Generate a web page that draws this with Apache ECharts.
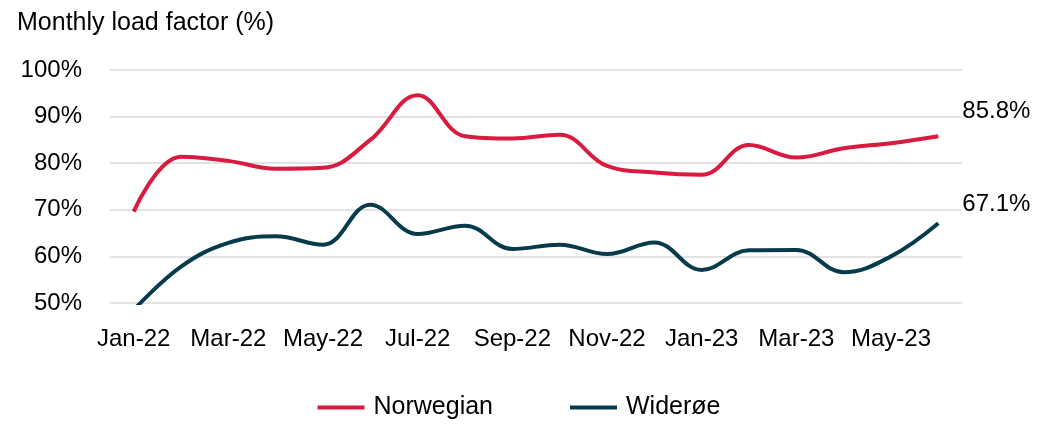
<!DOCTYPE html>
<html>
<head>
<meta charset="utf-8">
<script src="https://cdn.jsdelivr.net/npm/echarts@6/dist/echarts.min.js"></script>
<style>
  html, body { margin: 0; padding: 0; background: #fff; }
  #chart { width: 1038px; height: 427px; }
</style>
</head>
<body>
<div id="chart"></div>
<script>
var months = ['Jan-22', 'Feb-22', 'Mar-22', 'Apr-22', 'May-22', 'Jun-22', 'Jul-22', 'Aug-22', 'Sep-22',
              'Oct-22', 'Nov-22', 'Dec-22', 'Jan-23', 'Feb-23', 'Mar-23', 'Apr-23', 'May-23', 'Jun-23'];
var norwegian = [69.6, 81.4, 80.5, 78.8, 79.0, 85.0, 94.6, 85.8, 85.3, 86.1, 79.4, 78.0, 77.5, 83.9, 81.2, 83.2, 84.3, 85.8];
var wideroe = [48.5, 57.8, 62.9, 64.3, 62.5, 71.1, 64.8, 66.6, 61.6, 62.5, 60.5, 63.0, 57.1, 61.3, 61.4, 56.6, 60.0, 67.1];

var font = 'Liberation Sans';
var chart = echarts.init(document.getElementById('chart'));

var option = {
    title: {
        text: 'Monthly load factor (%)',
        left: 12,
        top: 6,
        textStyle: { fontFamily: font, fontSize: 25, fontWeight: 'normal', color: '#000' }
    },
    grid: { left: 110, right: 76, top: 70, bottom: 124, containLabel: false },
    legend: {
        bottom: 2,
        left: 'center',
        itemWidth: 47,
        itemHeight: 4,
        itemGap: 77,
        icon: 'rect',
        textStyle: { fontFamily: font, fontSize: 25, color: '#000', padding: [0, 0, 0, 4] },
        data: ['Norwegian', 'Widerøe']
    },
    xAxis: {
        type: 'category',
        data: months,
        boundaryGap: true,
        axisLine: { show: false },
        axisTick: { show: false },
        axisLabel: { interval: 1, fontFamily: font, fontSize: 24, color: '#000', margin: 24 }
    },
    yAxis: {
        type: 'value',
        min: 50,
        max: 100,
        interval: 10,
        axisLabel: { formatter: '{value}%', fontFamily: font, fontSize: 24, color: '#000', margin: 28 },
        splitLine: { lineStyle: { color: '#D9D9D9', width: 1.5 } }
    },
    series: [
        {
            name: 'Norwegian',
            type: 'line',
            data: norwegian,
            smooth: 0.4,
            showSymbol: false,
            lineStyle: { width: 4, color: '#D81B3F' },
            itemStyle: { color: '#D81B3F' },
            endLabel: {
                show: true,
                formatter: function (p) { return p.value.toFixed(1) + '%'; },
                fontFamily: font, fontSize: 24, color: '#000',
                offset: [16, -25]
            }
        },
        {
            name: 'Widerøe',
            type: 'line',
            data: wideroe,
            smooth: 0.4,
            showSymbol: false,
            lineStyle: { width: 4, color: '#073B4C' },
            itemStyle: { color: '#073B4C' },
            endLabel: {
                show: true,
                formatter: function (p) { return p.value.toFixed(1) + '%'; },
                fontFamily: font, fontSize: 24, color: '#000',
                offset: [16, -19]
            }
        }
    ]
};

chart.setOption(option);
</script>
</body>
</html>
